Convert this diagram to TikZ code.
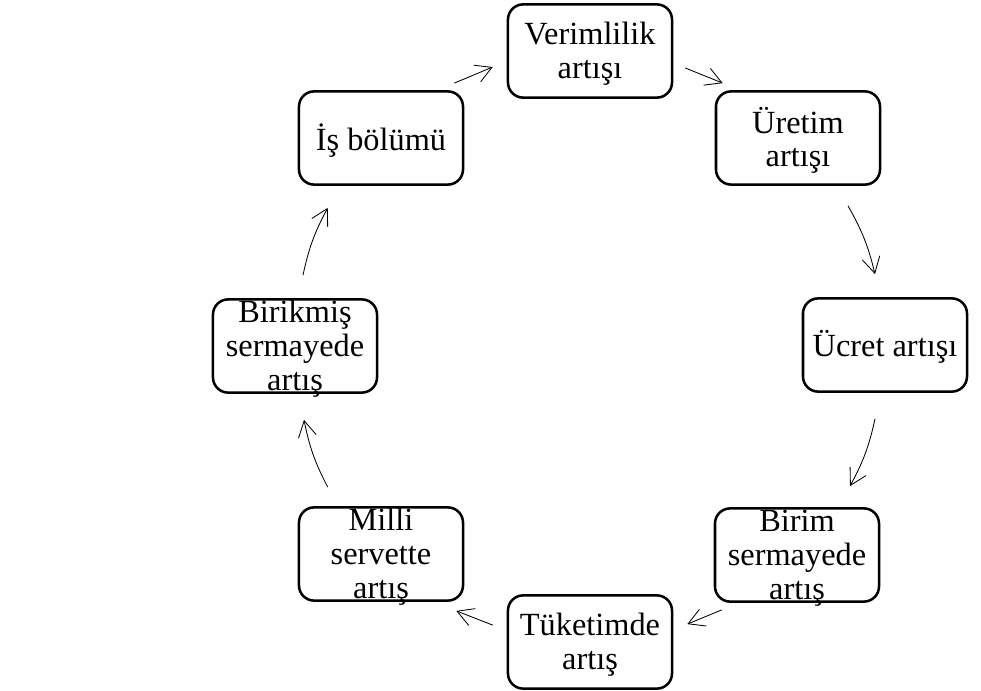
\documentclass[tikz,border=0pt]{standalone}
\usepackage{fontspec}
\setmainfont{Liberation Serif}
\usetikzlibrary{arrows.meta}
\newcommand{\boxlines}[1]{\raisebox{-9pt}[0pt][0pt]{\begin{tabular}{@{}c@{}}#1\end{tabular}}}
\begin{document}
\begin{tikzpicture}[x=0.025cm, y=-0.025cm]
        % Define styles
        \tikzstyle{stepbox} = [rectangle, rounded corners=0.38cm, minimum width=4.1cm, minimum height=2.33cm, inner sep=0pt, draw=black, line width=1.8pt, font=\fontsize{23}{24}\selectfont]
        \tikzstyle{arrow} = [line width=0.6pt, -{Straight Barb[length=4mm, width=4.5mm]}]

        \useasboundingbox (0,0) rectangle (981,691);

        % Nodes
        \node (verim) [stepbox] at (590,51) {\boxlines{Verimlilik\\artışı}};
        \node (uret) [stepbox] at (798,138) {\boxlines{Üretim\\artışı}};
        \node (ucret) [stepbox] at (885,345) {\boxlines{Ücret artışı}};
        \node (birim) [stepbox] at (797,555) {\boxlines{Birim\\sermayede\\artış}};
        \node (tuket) [stepbox] at (590,642) {\boxlines{Tüketimde\\artış}};
        \node (milli) [stepbox] at (381,554) {\boxlines{Milli\\servette\\artış}};
        \node (birik) [stepbox] at (295,346) {\boxlines{Birikmiş\\sermayede\\artış}};
        \node (isb) [stepbox] at (381,138) {\boxlines{İş bölümü}};

        % Arrows
        \draw [arrow] ([shift={(-10,-7)}]isb.north east) -- ([shift={(-14,16)}]verim.west);
        \draw [arrow] ([shift={(12,17)}]verim.east) -- ([shift={(8,-7)}]uret.north west);
        \draw [arrow] ([shift={(50,20)}]uret.south) to[bend left=8] ([shift={(-10,-23)}]ucret.north);
        \draw [arrow] ([shift={(-10,26)}]ucret.south) to[bend left=8] ([shift={(53,-21)}]birim.north);
        \draw [arrow] ([shift={(8,7)}]birim.south west) -- ([shift={(14,30)}]tuket.north east);
        \draw [arrow] ([shift={(-14,31)}]tuket.north west) -- ([shift={(-8,9)}]milli.south east);
        \draw [arrow] ([shift={(30,-19)}]milli.north west) to[bend left=8] ([shift={(9,26)}]birik.south);
        \draw [arrow] ([shift={(8,-23)}]birik.north) to[bend left=8] ([shift={(30,22)}]isb.south west);
    \end{tikzpicture}
\end{document}
